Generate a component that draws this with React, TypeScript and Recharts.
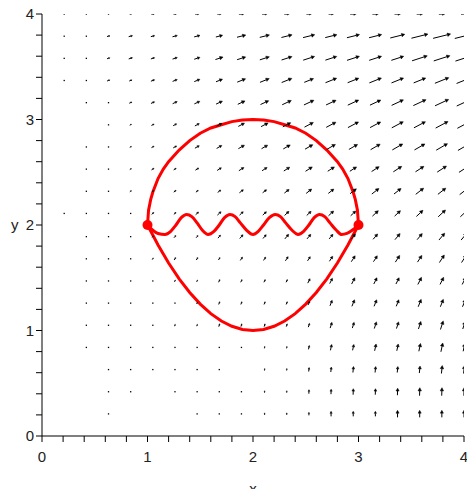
import React from 'react';
import { ComposedChart, XAxis, YAxis, Scatter, Line } from 'recharts';

// Field sample positions (Maple fieldplot 20x20 grid on [0,4]x[0,4])
const GRID_X = [0, 0.21, 0.42, 0.63, 0.84, 1.05, 1.26, 1.47, 1.68, 1.89, 2.11, 2.32, 2.53, 2.74, 2.95, 3.16, 3.37, 3.58, 3.79, 4.0];
const GRID_Y = [4.0, 3.79, 3.58, 3.37, 3.16, 2.95, 2.74, 2.53, 2.32, 2.11, 1.89, 1.68, 1.47, 1.26, 1.05, 0.84, 0.63, 0.42, 0.21, 0];

// Arrow direction per row (degrees above horizontal), top row first
const ROW_ANGLE = [2, 14, 18, 22, 25, 28, 30, 33, 38, 43, 50, 57, 63, 68, 72, 78, 84, 88, 90, 90];

// Relative arrow magnitudes, top row first, left column first
const MAGNITUDE = [
  [0, 1, 1, 1, 2, 3, 3, 4, 4, 5, 5, 5, 5, 5, 6, 6, 6, 6, 6, 6],
  [0, 1, 1, 3, 4, 4, 5, 6, 7, 9, 10, 11, 12, 12, 13, 13, 15, 17, 18, 19],
  [0, 1, 1, 3, 4, 4, 5, 6, 8, 9, 10, 11, 12, 12, 13, 13, 13, 16, 17, 18],
  [0, 1, 1, 3, 3, 4, 5, 6, 7, 9, 10, 11, 10, 12, 12, 13, 13, 13, 15, 16],
  [0, 0, 1, 1, 3, 4, 5, 6, 7, 8, 9, 10, 11, 11, 12, 12, 13, 14, 15, 16],
  [0, 0, 0, 1, 2, 3, 4, 5, 6, 7, 8, 9, 10, 11, 12, 12, 13, 13, 14, 15],
  [0, 0, 1, 1, 2, 3, 4, 5, 6, 7, 7, 8, 9, 10, 10, 11, 12, 12, 13, 14],
  [0, 0, 1, 1, 2, 3, 3, 4, 5, 6, 6, 7, 8, 8, 8, 9, 10, 10, 11, 12],
  [0, 0, 1, 1, 2, 2, 3, 3, 4, 5, 5, 6, 7, 7, 8, 9, 9, 10, 10, 11],
  [0, 1, 1, 1, 1, 3, 3, 4, 5, 5, 5, 6, 6, 7, 7, 8, 8, 9, 10, 10],
  [0, 0, 1, 1, 1, 2, 3, 3, 4, 5, 5, 6, 6, 6, 7, 7, 8, 8, 9, 9],
  [0, 0, 1, 1, 1, 2, 3, 3, 3, 4, 4, 5, 5, 6, 7, 7, 8, 8, 9, 9],
  [0, 0, 1, 1, 1, 1, 2, 2, 3, 3, 3, 3, 5, 6, 7, 7, 7, 8, 8, 8],
  [0, 0, 1, 1, 1, 1, 1, 2, 3, 3, 3, 3, 4, 6, 7, 7, 7, 8, 8, 8],
  [0, 0, 1, 1, 1, 1, 2, 2, 3, 3, 3, 3, 4, 6, 6, 7, 7, 8, 9, 8],
  [0, 0, 1, 1, 1, 1, 1, 1, 1, 1, 2, 2, 4, 6, 6, 7, 7, 8, 9, 8],
  [0, 0, 0, 1, 1, 1, 1, 1, 1, 0, 2, 2, 4, 5, 6, 6, 6, 7, 8, 8],
  [0, 0, 0, 1, 1, 0, 1, 1, 1, 1, 2, 2, 4, 5, 6, 6, 7, 8, 8, 8],
  [0, 0, 0, 1, 0, 0, 0, 1, 1, 1, 2, 2, 3, 5, 5, 5, 7, 7, 7, 7],
  [0, 0, 0, 0, 0, 0, 0, 0, 0, 0, 0, 0, 0, 0, 0, 0, 0, 0, 0, 0],
];

// Red curve: upper arc
const UPPER_X = [1.0, 1.01, 1.03, 1.05, 1.1, 1.15, 1.2, 1.3, 1.4, 1.5, 1.6, 1.7, 1.8, 1.9, 2.0, 2.1, 2.2, 2.3, 2.4, 2.5, 2.6, 2.7, 2.8, 2.85, 2.9, 2.95, 2.97, 2.99, 3.0];
const UPPER_Y = [2.0, 2.14, 2.24, 2.31, 2.44, 2.53, 2.6, 2.71, 2.8, 2.87, 2.92, 2.95, 2.98, 2.995, 3.0, 2.995, 2.98, 2.95, 2.92, 2.87, 2.8, 2.71, 2.6, 2.53, 2.44, 2.31, 2.24, 2.14, 2.0];

// Red curve: lower arc
const LOWER_X = [1.0, 1.1, 1.2, 1.3, 1.4, 1.5, 1.6, 1.7, 1.8, 1.9, 2.0, 2.1, 2.2, 2.3, 2.4, 2.5, 2.6, 2.7, 2.8, 2.9, 3.0];
const LOWER_Y = [2.0, 1.81, 1.64, 1.49, 1.36, 1.25, 1.16, 1.09, 1.04, 1.01, 1.0, 1.01, 1.04, 1.09, 1.16, 1.25, 1.36, 1.49, 1.64, 1.81, 2.0];

// Red curve: wavy middle path
const WAVE_X = [1.0, 1.05, 1.1, 1.166, 1.22, 1.27, 1.32, 1.37, 1.42, 1.47, 1.52, 1.574, 1.63, 1.68, 1.73, 1.782, 1.83, 1.88, 1.94, 2.0, 2.05, 2.1, 2.155, 2.21, 2.26, 2.31, 2.37, 2.427, 2.48, 2.53, 2.58, 2.63, 2.68, 2.73, 2.79, 2.84, 2.89, 2.94, 3.0];
const WAVE_Y = [2.0, 1.95, 1.92, 1.91, 1.94, 2.0, 2.07, 2.1, 2.08, 2.02, 1.95, 1.91, 1.94, 2.0, 2.07, 2.1, 2.08, 2.02, 1.95, 1.91, 1.94, 2.0, 2.07, 2.1, 2.08, 2.02, 1.95, 1.91, 1.94, 2.0, 2.07, 2.1, 2.08, 2.02, 1.95, 1.91, 1.92, 1.95, 2.0];

const END_X = [1, 3];
const END_Y = [2, 2];

const TICKS = [0, 0.2, 0.4, 0.6, 0.8, 1, 1.2, 1.4, 1.6, 1.8, 2, 2.2, 2.4, 2.6, 2.8, 3, 3.2, 3.4, 3.6, 3.8, 4];

const FIELD = GRID_Y.flatMap((y, r) =>
  GRID_X.map((x, c) => ({ x, y, mag: MAGNITUDE[r][c], ang: ROW_ANGLE[r] }))
);
const UPPER = UPPER_X.map((x, i) => ({ x, y: UPPER_Y[i] }));
const LOWER = LOWER_X.map((x, i) => ({ x, y: LOWER_Y[i] }));
const WAVE = WAVE_X.map((x, i) => ({ x, y: WAVE_Y[i] }));
const ENDS = END_X.map((x, i) => ({ x, y: END_Y[i] }));

const ARROW_SCALE = 1;
const RED = '#ff0000';
const FONT = { fontSize: 15, fill: '#222', fontFamily: '"Liberation Sans", Arial, sans-serif' };

const Arrow = (props: any) => {
  const { cx, cy, payload } = props;
  const L = (payload?.mag ?? 0) * ARROW_SCALE;
  if (!L || cx == null || cy == null) return <g />;
  if (L <= 1.2) {
    return <rect x={cx - 0.6} y={cy - 0.6} width={1.3} height={1.3} fill="#000" />;
  }
  const a = (payload.ang * Math.PI) / 180;
  const ux = Math.cos(a);
  const uy = -Math.sin(a);
  const x1 = cx - (ux * L) / 2;
  const y1 = cy - (uy * L) / 2;
  const x2 = cx + (ux * L) / 2;
  const y2 = cy + (uy * L) / 2;
  const hl = Math.min(3.2, L * 0.4);
  const hw = Math.min(1.7, L * 0.22);
  const bx = x2 - ux * hl;
  const by = y2 - uy * hl;
  const px = -uy;
  const py = ux;
  const pts = `${x2},${y2} ${bx + px * hw},${by + py * hw} ${bx - px * hw},${by - py * hw}`;
  return (
    <g>
      <line x1={x1} y1={y1} x2={bx} y2={by} stroke="#000" strokeWidth={1} />
      <polygon points={pts} fill="#000" stroke="#000" strokeWidth={0.5} />
    </g>
  );
};

const EndDot = (props: any) => {
  const { cx, cy } = props;
  if (cx == null || cy == null) return <g />;
  return <circle cx={cx} cy={cy} r={5} fill={RED} />;
};

const fmt = (v: number) => (Number.isInteger(v) ? String(v) : '');

export default function App() {
  return (
    <div style={{ position: 'absolute', left: 8, top: 8, width: 459, height: 481 }}>
      <style>{'html{overflow:hidden}'}</style>
      <ComposedChart width={459} height={481} margin={{ top: 6, right: 3, bottom: 23, left: 0 }} style={{ overflow: 'visible' }}>
        <XAxis
          type="number"
          dataKey="x"
          domain={[0, 4]}
          ticks={TICKS}
          tickFormatter={fmt}
          interval={0}
          height={30}
          tickSize={6}
          tickMargin={9}
          axisLine={{ stroke: '#000', strokeWidth: 1 }}
          tickLine={{ stroke: '#000', strokeWidth: 1 }}
          tick={FONT}
          allowDataOverflow
          label={{ value: 'x', position: 'bottom', offset: 17, style: FONT }}
        />
        <YAxis
          type="number"
          dataKey="y"
          domain={[0, 4]}
          ticks={TICKS}
          tickFormatter={fmt}
          interval={0}
          width={34}
          tickSize={6}
          tickMargin={2}
          axisLine={{ stroke: '#000', strokeWidth: 1 }}
          tickLine={{ stroke: '#000', strokeWidth: 1 }}
          tick={FONT}
          allowDataOverflow
          label={{ value: 'y', position: 'insideLeft', offset: 3, style: FONT }}
        />
        <Scatter data={FIELD} shape={Arrow} isAnimationActive={false} />
        <Line data={UPPER} dataKey="y" type="linear" stroke={RED} strokeWidth={3} dot={false} activeDot={false} isAnimationActive={false} />
        <Line data={LOWER} dataKey="y" type="linear" stroke={RED} strokeWidth={3} dot={false} activeDot={false} isAnimationActive={false} />
        <Line data={WAVE} dataKey="y" type="monotone" stroke={RED} strokeWidth={3} dot={false} activeDot={false} isAnimationActive={false} />
        <Scatter data={ENDS} shape={EndDot} isAnimationActive={false} />
      </ComposedChart>
    </div>
  );
}
